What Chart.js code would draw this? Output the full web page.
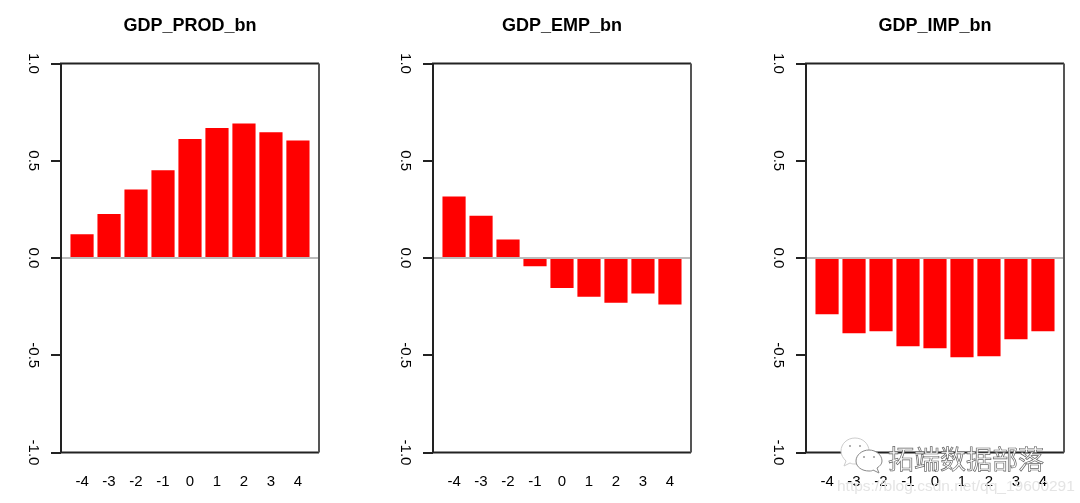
<!DOCTYPE html>
<html>
<head>
<meta charset="utf-8">
<script src="https://cdn.jsdelivr.net/npm/chart.js@4"></script>
<style>
  html, body { margin: 0; background: #fff; overflow: hidden; width: 1080px; height: 503px; }
  canvas { position: absolute; top: 0; }
  .mark { position: absolute; white-space: nowrap; }
  #wm { left: 888px; top: 439px; font: 26px "Noto Sans CJK SC"; color: #fff; -webkit-text-stroke: 0.7px #666; }
  #url { left: 837px; top: 477px; font: 15.5px "Liberation Sans"; color: #e4e4e4; }
  #icon { left: 838px; top: 436px; }
</style>
</head>
<body>
<canvas id="c1"></canvas>
<canvas id="c2"></canvas>
<canvas id="c3"></canvas>
<svg id="icon" class="mark" width="46" height="40" viewBox="0 0 46 40">
  <path d="M17 2C9 2 3 8 3 15c0 4 2 7 5 10l-2 5 6-3c2 1 3 1 5 1 8 0 14-6 14-13S25 2 17 2z" fill="#fff" stroke="#ccc"/>
  <circle cx="12" cy="10" r="1" fill="#999"/><circle cx="22" cy="10" r="1" fill="#999"/>
  <path d="M31 14c-7 0-13 5-13 11s6 10 13 10c2 0 3 0 4-1l6 3-2-5c3-2 5-4 5-7 0-6-6-11-13-11z" fill="#fff" stroke="#888"/>
  <circle cx="26" cy="21" r="1" fill="#999"/><circle cx="36" cy="21" r="1" fill="#999"/>
</svg>
<div id="wm" class="mark">拓端数据部落</div>
<div id="url" class="mark">https://blog.csdn.net/qq_19600291</div>
<script>
const lags = [-4, -3, -2, -1, 0, 1, 2, 3, 4];
const yTicks = [-1, -0.5, 0, 0.5, 1];
const gdpProd = [0.12, 0.225, 0.35, 0.45, 0.61, 0.667, 0.69, 0.645, 0.603];
const gdpEmp = [0.315, 0.216, 0.094, -0.041, -0.152, -0.197, -0.228, -0.181, -0.238];
const gdpImp = [-0.287, -0.385, -0.375, -0.452, -0.462, -0.508, -0.503, -0.416, -0.375];

const font = { family: "'Liberation Sans', Arial, sans-serif", size: 15 };

// R style box round the plot, right edge came out lighter in the original
const boxPlugin = {
  id: "box",
  beforeDraw(chart) {
    // title is centred on the whole canvas, not on the padded box
    chart.titleBlock.right = chart.width;
  },
  afterDraw(chart) {
    const { ctx, chartArea: a } = chart;
    ctx.save();
    ctx.lineWidth = 2;
    ctx.strokeStyle = "#222";
    ctx.beginPath();
    ctx.moveTo(a.left, a.bottom);
    ctx.lineTo(a.left, a.top);
    ctx.lineTo(a.right, a.top);
    ctx.moveTo(a.left, a.bottom);
    ctx.lineTo(a.right, a.bottom);
    ctx.stroke();
    ctx.strokeStyle = "#555";
    ctx.beginPath();
    ctx.moveTo(a.right, a.top);
    ctx.lineTo(a.right, a.bottom);
    ctx.stroke();
    ctx.restore();
  }
};

function drawPanel(id, left, title, values) {
  const el = document.getElementById(id);
  el.style.left = left + "px";
  new Chart(el, {
    type: "bar",
    data: {
      datasets: [{
        data: lags.map((x, i) => ({ x: x, y: values[i] })),
        backgroundColor: "#ff0000",
        barThickness: 22.5
      }]
    },
    plugins: [boxPlugin],
    options: {
      responsive: false,
      animation: false,
      devicePixelRatio: 1,
      layout: { padding: { right: 61 } },
      plugins: {
        legend: { display: false },
        tooltip: { enabled: false },
        title: {
          display: true,
          text: title,
          color: "#000",
          font: { family: font.family, size: 18, weight: "bold" },
          padding: { top: 15, bottom: 26.9 }
        }
      },
      scales: {
        x: {
          type: "linear",
          offset: false,
          min: -4.78,
          max: 4.78,
          afterFit(s) { s.height = 50.5; },
          afterBuildTicks(s) { s.ticks = lags.map(v => ({ value: v })); },
          border: { display: false },
          grid: { display: false },
          ticks: { color: "#000", font: font, padding: 12, maxRotation: 0, autoSkip: false }
        },
        y: {
          min: -1,
          max: 1,
          afterFit(s) { s.width = 61; },
          afterBuildTicks(s) { s.ticks = yTicks.map(v => ({ value: v })); },
          border: { display: false },
          grid: {
            z: 1,
            lineWidth: 2,
            tickLength: 10,
            tickColor: "#222",
            color: c => (c.tick && c.tick.value === 0 ? "#bbbbbb" : "rgba(0,0,0,0)")
          },
          ticks: {
            color: "#000",
            font: font,
            minRotation: -90,
            maxRotation: -90,
            crossAlign: "center",
            padding: 5,
            callback: v => v.toFixed(1)
          }
        }
      }
    }
  });
}

for (const id of ["c1", "c2", "c3"]) {
  const el = document.getElementById(id);
  el.width = 380;
  el.height = 503;
}
drawPanel("c1", 0, "GDP_PROD_bn", gdpProd);
drawPanel("c2", 372, "GDP_EMP_bn", gdpEmp);
drawPanel("c3", 745, "GDP_IMP_bn", gdpImp);
</script>
</body>
</html>
